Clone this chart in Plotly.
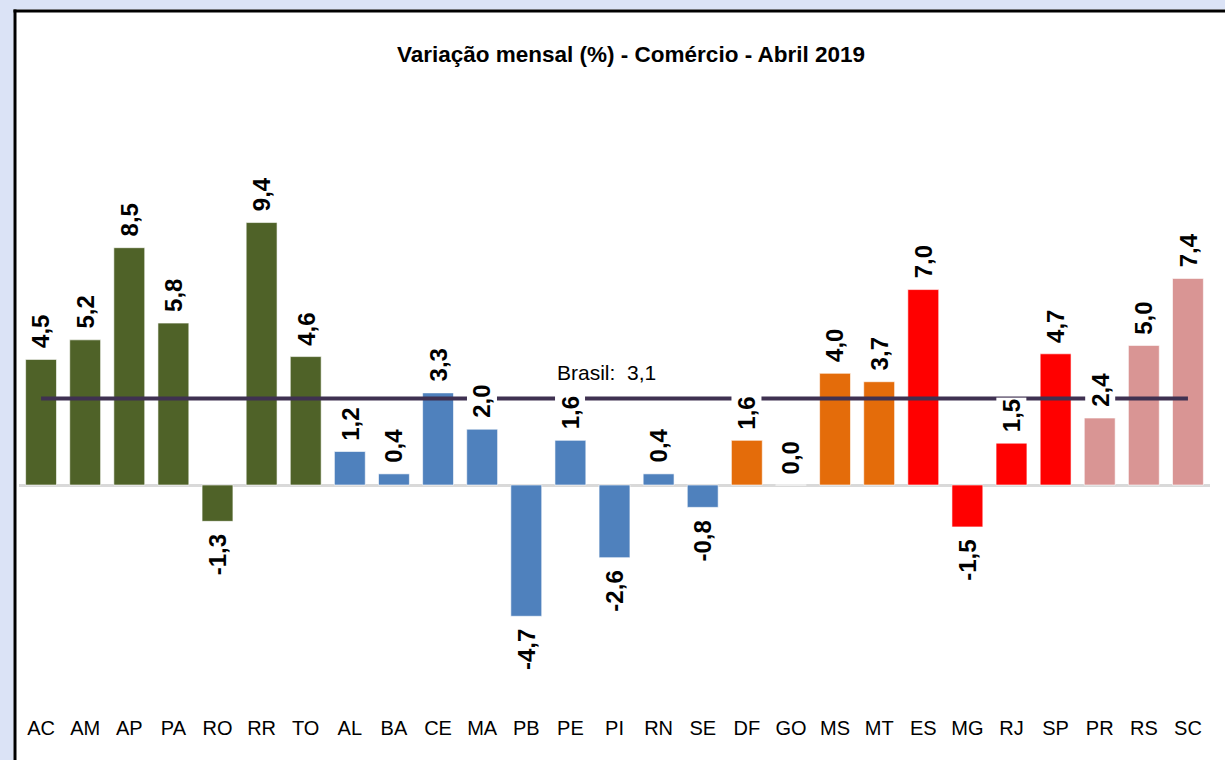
import plotly.graph_objects as go

categories = ["AC", "AM", "AP", "PA", "RO", "RR", "TO",
              "AL", "BA", "CE", "MA", "PB", "PE", "PI", "RN", "SE",
              "DF", "GO", "MS", "MT",
              "ES", "MG", "RJ", "SP",
              "PR", "RS", "SC"]
values = [4.5, 5.2, 8.5, 5.8, -1.3, 9.4, 4.6,
          1.2, 0.4, 3.3, 2.0, -4.7, 1.6, -2.6, 0.4, -0.8,
          1.6, 0.0, 4.0, 3.7,
          7.0, -1.5, 1.5, 4.7,
          2.4, 5.0, 7.4]
regions = ["N"] * 7 + ["NE"] * 9 + ["CO"] * 4 + ["SE"] * 4 + ["S"] * 3
brasil_value = 3.1
title_text = "Variação mensal (%) - Comércio - Abril 2019"

region_colors = {"N": "#4f6228", "NE": "#4f81bd", "CO": "#e46c0a",
                 "SE": "#ff0000", "S": "#d99594"}
bar_colors = [region_colors[r] for r in regions]

def fmt(v):
    return f"{v:.1f}".replace(".", ",")

sans = "Liberation Sans, Arial, sans-serif"
BG = "#dbe3f6"

fig = go.Figure()
fig.add_trace(go.Bar(
    x=categories, y=values,
    marker=dict(color=bar_colors, line=dict(color="rgba(255,255,255,0.6)", width=1)),
    hoverinfo="x+y", showlegend=False,
))
fig.add_trace(go.Scatter(
    x=[categories[0], categories[-1]], y=[brasil_value, brasil_value],
    mode="lines", line=dict(color="#3f3151", width=4),
    hoverinfo="skip", showlegend=False,
))

annotations = []
for c, v in zip(categories, values):
    if v >= 0:
        ya, ys = "bottom", 9
    else:
        ya, ys = "top", -11
    annotations.append(dict(
        x=c, y=v, xref="x", yref="y", text=fmt(v), showarrow=False,
        textangle=-90, yanchor=ya, xanchor="center", yshift=ys,
        bgcolor="white", borderpad=1,
        font=dict(family=sans, size=24, color="black", weight="bold"),
    ))

def px_x(p):
    return (p - 19) / 1191

def px_y(p):
    return (714 - p) / 578

annotations.append(dict(
    x=px_x(606), y=px_y(372), xref="paper", yref="paper",
    text="Brasil:  " + fmt(brasil_value), showarrow=False,
    xanchor="center", yanchor="middle",
    font=dict(family=sans, size=21, color="black"),
))
annotations.append(dict(
    x=px_x(631), y=px_y(55), xref="paper", yref="paper",
    text=title_text, showarrow=False, xanchor="center", yanchor="middle",
    font=dict(family=sans, size=22.5, color="black", weight="bold"),
))

shapes = [
    # lavender outer band (left and top)
    dict(type="rect", xref="paper", yref="paper", x0=px_x(-2), x1=px_x(13.5),
         y0=px_y(762), y1=px_y(-2), fillcolor=BG, line=dict(width=0), layer="below"),
    dict(type="rect", xref="paper", yref="paper", x0=px_x(-2), x1=px_x(1227),
         y0=px_y(9.5), y1=px_y(-2), fillcolor=BG, line=dict(width=0), layer="below"),
    # black frame (left and top)
    dict(type="line", xref="paper", yref="paper", x0=px_x(15), x1=px_x(15),
         y0=px_y(762), y1=px_y(9.5), line=dict(color="black", width=3)),
    dict(type="line", xref="paper", yref="paper", x0=px_x(13.5), x1=px_x(1227),
         y0=px_y(11), y1=px_y(11), line=dict(color="black", width=3)),
]

fig.update_layout(
    width=1225, height=760,
    margin=dict(l=19, r=15, t=136, b=46),
    paper_bgcolor="white", plot_bgcolor="white",
    bargap=0.3,
    annotations=annotations, shapes=shapes,
    xaxis=dict(showgrid=False, showline=False, ticks="", type="category",
               tickfont=dict(family=sans, size=20, color="black"),
               range=[-0.5, len(categories) - 0.5], fixedrange=True),
    yaxis=dict(range=[-8.2, 12.5], showgrid=False, showticklabels=False,
               zeroline=True, zerolinecolor="#d9d9d9", zerolinewidth=3,
               showline=False, fixedrange=True),
)

fig.write_html(
    "out.html",
    config={"displayModeBar": False},
    post_script="document.body.style.margin='0';document.body.style.overflow='hidden';"
                "document.body.style.background='" + BG + "';",
)
